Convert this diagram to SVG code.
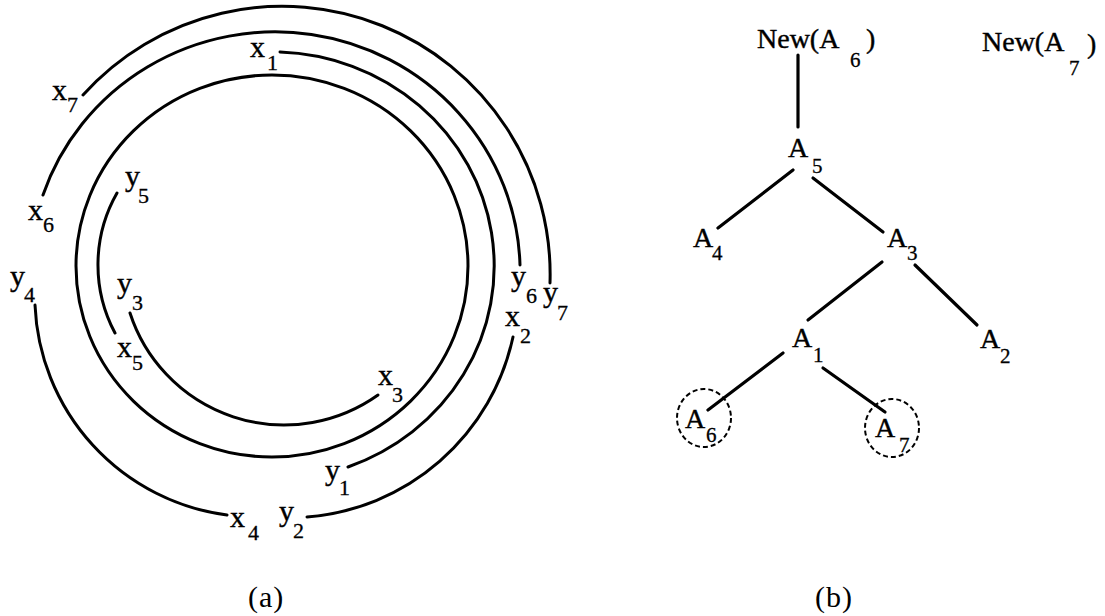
<svg xmlns="http://www.w3.org/2000/svg" width="1105" height="616" viewBox="0 0 1105 616">
<style>
.arc{fill:none;stroke:#000;stroke-width:3;stroke-linecap:round}
.edge{fill:none;stroke:#000;stroke-width:3.2;stroke-linecap:round}
.dash{fill:none;stroke:#000;stroke-width:2;stroke-dasharray:5,3}
.t{font-family:"Liberation Serif",serif;font-size:30px;fill:#000;stroke:#000;stroke-width:0.4}
.s{font-family:"Liberation Serif",serif;font-size:22px;fill:#000;stroke:#000;stroke-width:0.3}
.T{font-family:"Liberation Serif",serif;font-size:28px;fill:#000;stroke:#000;stroke-width:0.4}
.S{font-family:"Liberation Serif",serif;font-size:21px;fill:#000;stroke:#000;stroke-width:0.3}
.cap{font-family:"Liberation Serif",serif;font-size:30px;fill:#000;letter-spacing:1px}
</style>
<rect width="1105" height="616" fill="#fff"/>
<g id="part-a">
  <g id="arcs">
    <path class="arc" d="M83,95 A268,268 0 0 1 550,283"/>
    <path class="arc" d="M43,195 A245,240 0 0 1 520,265"/>
    <path class="arc" d="M280,52 A222,214 0 0 1 348,467"/>
    <ellipse class="arc" cx="272" cy="266" rx="196" ry="191"/>
    <path class="arc" d="M117,193 A145,145 0 0 0 115,333"/>
    <path class="arc" d="M130,313 A162,162 0 0 0 378,395"/>
    <path class="arc" d="M35,305 A221,221 0 0 0 227,515"/>
    <path class="arc" d="M513,337 A229,229 0 0 1 307,517"/>
  </g>
  <g id="labels-a">
    <text class="t" x="250" y="57">x</text><text class="s" x="267" y="70">1</text>
    <text class="t" x="52" y="100">x</text><text class="s" x="67" y="112">7</text>
    <text class="t" x="28" y="220">x</text><text class="s" x="43" y="232">6</text>
    <text class="t" x="125" y="186">y</text><text class="s" x="138" y="203">5</text>
    <text class="t" x="10" y="286">y</text><text class="s" x="24" y="302">4</text>
    <text class="t" x="117" y="293">y</text><text class="s" x="132" y="310">3</text>
    <text class="t" x="117" y="357">x</text><text class="s" x="132" y="370">5</text>
    <text class="t" x="378" y="385">x</text><text class="s" x="392" y="402">3</text>
    <text class="t" x="325" y="480">y</text><text class="s" x="339" y="495">1</text>
    <text class="t" x="279" y="521">y</text><text class="s" x="293" y="538">2</text>
    <text class="t" x="230" y="527">x</text><text class="s" x="248" y="540">4</text>
    <text class="t" x="511" y="286">y</text><text class="s" x="526" y="303">6</text>
    <text class="t" x="543" y="302">y</text><text class="s" x="557" y="320">7</text>
    <text class="t" x="505" y="326">x</text><text class="s" x="520" y="343">2</text>
  </g>
  <text class="cap" x="248" y="607">(a)</text>
</g>
<g id="part-b">
  <g id="connectors">
    <line class="edge" x1="798" y1="55" x2="798" y2="127"/>
    <line class="edge" x1="793" y1="170" x2="718" y2="228"/>
    <line class="edge" x1="813" y1="178" x2="883" y2="232"/>
    <line class="edge" x1="882" y1="262" x2="808" y2="320"/>
    <line class="edge" x1="915" y1="265" x2="977" y2="325"/>
    <line class="edge" x1="783" y1="353" x2="708" y2="410"/>
    <line class="edge" x1="823" y1="368" x2="885" y2="412"/>
  </g>
  <g id="node-newA6"><text class="T" x="757" y="48">New(A</text><text class="S" x="850" y="67">6</text><text class="T" x="866" y="48">)</text></g>
  <g id="node-newA7"><text class="T" x="982" y="51">New(A</text><text class="S" x="1069" y="75">7</text><text class="T" x="1087" y="53">)</text></g>
  <g id="node-A5"><text class="T" x="788" y="157">A</text><text class="S" x="812" y="173">5</text></g>
  <g id="node-A4"><text class="T" x="693" y="247">A</text><text class="S" x="712" y="260">4</text></g>
  <g id="node-A3"><text class="T" x="887" y="247">A</text><text class="S" x="907" y="260">3</text></g>
  <g id="node-A1"><text class="T" x="792" y="347">A</text><text class="S" x="813" y="362">1</text></g>
  <g id="node-A2"><text class="T" x="980" y="348">A</text><text class="S" x="1000" y="363">2</text></g>
  <g id="node-A6"><ellipse class="dash" cx="704" cy="418" rx="27" ry="29"/><text class="T" x="685" y="428">A</text><text class="S" x="706" y="442">6</text></g>
  <g id="node-A7"><ellipse class="dash" cx="892" cy="428" rx="27" ry="29"/><text class="T" x="875" y="437">A</text><text class="S" x="899" y="452">7</text></g>
  <text class="cap" x="815" y="607">(b)</text>
</g>
</svg>
